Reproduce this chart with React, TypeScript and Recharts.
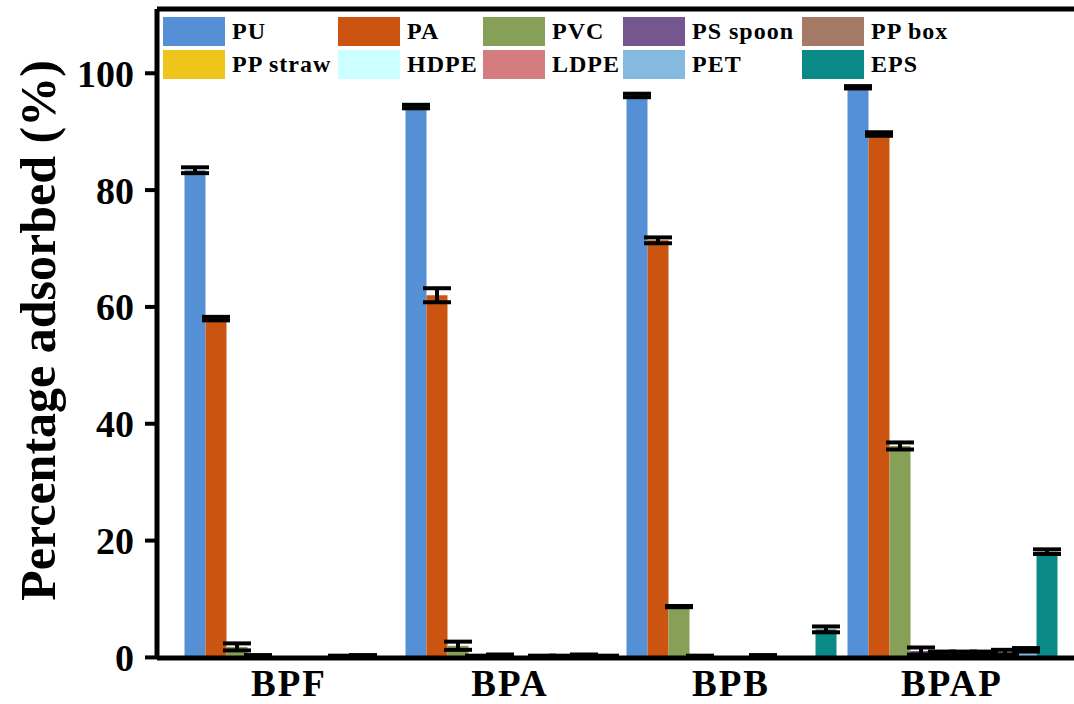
import { BarChart, Bar, XAxis, YAxis, ErrorBar, ReferenceLine, Label } from 'recharts'

const categories = ['BPF', 'BPA', 'BPB', 'BPAP']

const seriesNames = ['PU', 'PA', 'PVC', 'PS spoon', 'PP box', 'PP straw', 'HDPE', 'LDPE', 'PET', 'EPS']
const seriesColors = ['#558fd6', '#cb5410', '#86a058', '#76568e', '#a47a66', '#efc41b', '#ccffff', '#d57c80', '#84badf', '#098a87']

// mean values per series, one per category (BPF, BPA, BPB, BPAP)
const PU = [83.4, 94.3, 96.2, 97.6]
const PA = [58.0, 62.0, 71.4, 89.6]
const PVC = [1.8, 2.0, 8.7, 36.2]
const PSspoon = [0.2, 0.1, 0.1, 1.1]
const PPbox = [0, 0.3, 0, 0.7]
const PPstraw = [0, 0, 0, 0.7]
const HDPE = [0, 0.1, 0.2, 0.7]
const LDPE = [0.1, 0.1, 0, 0.9]
const PET = [0.2, 0.3, 0, 1.3]
const EPS = [0, 0.1, 4.8, 18.1]

// standard deviations
const PUerr = [0.5, 0.3, 0.3, 0.2]
const PAerr = [0.3, 1.2, 0.5, 0.3]
const PVCerr = [0.6, 0.7, 0.1, 0.6]
const PSspoonErr = [0.2, 0.2, 0.2, 0.6]
const PPboxErr = [0, 0.2, 0, 0.3]
const PPstrawErr = [0, 0, 0, 0.3]
const HDPEerr = [0, 0.2, 0.2, 0.3]
const LDPEerr = [0.2, 0.2, 0, 0.4]
const PETerr = [0.2, 0.2, 0, 0.3]
const EPSerr = [0, 0.2, 0.5, 0.4]

const seriesValues = [PU, PA, PVC, PSspoon, PPbox, PPstraw, HDPE, LDPE, PET, EPS]
const seriesErrors = [PUerr, PAerr, PVCerr, PSspoonErr, PPboxErr, PPstrawErr, HDPEerr, LDPEerr, PETerr, EPSerr]

const yTicks = [0, 20, 40, 60, 80, 100]

const data = categories.map((cat, i) => {
    const row: any = { name: cat }
    seriesNames.forEach((s, k) => {
        row[s] = seriesValues[k][i]
        row[s + '_err'] = seriesErrors[k][i]
    })
    return row
})

const FONT = '"Liberation Serif", "Times New Roman", serif'

// legend column widths (2 rows x 5 columns)
const legendCols = [175, 145, 140, 179, 160]

function LegendGrid() {
    return (
        <div
            style={{
                position: 'absolute',
                top: 17,
                left: 163,
                display: 'grid',
                gridTemplateColumns: legendCols.map(w => w + 'px').join(' '),
                rowGap: 4,
            }}
        >
            {seriesNames.map((s, k) => (
                <div key={s} style={{ display: 'flex', alignItems: 'center', height: 29 }}>
                    <div style={{ width: 62, height: 29, background: seriesColors[k], flexShrink: 0 }} />
                    <span
                        style={{
                            marginLeft: 7,
                            fontFamily: FONT,
                            fontWeight: 'bold',
                            fontSize: 24,
                            letterSpacing: 1,
                            color: '#000',
                            whiteSpace: 'nowrap',
                        }}
                    >
                        {s}
                    </span>
                </div>
            ))}
        </div>
    )
}

export default function App() {
    return (
        <div style={{ position: 'fixed', left: 0, top: 0, width: 1074, height: 704, overflow: 'hidden', background: '#fff' }}>
            <BarChart
                width={1100}
                height={704}
                data={data}
                margin={{ top: 9, right: 16, bottom: 0, left: 0 }}
                barSize={21}
                barGap={0}
            >
                <XAxis
                    dataKey="name"
                    padding={{ left: 21.5, right: 21.5 }}
                    height={46}
                    tickLine={false}
                    tickSize={0}
                    tickMargin={12}
                    axisLine={{ stroke: '#000', strokeWidth: 5 }}
                    tick={{ fill: '#000', fontSize: 37, fontWeight: 'bold', fontFamily: FONT, letterSpacing: 2 }}
                />
                <YAxis
                    domain={[0, 111]}
                    ticks={yTicks}
                    width={157}
                    tickSize={12}
                    tickMargin={11}
                    axisLine={{ stroke: '#000', strokeWidth: 5 }}
                    tickLine={{ stroke: '#000', strokeWidth: 4 }}
                    tick={{ fill: '#000', fontSize: 38, fontWeight: 'bold', fontFamily: FONT }}
                >
                    <Label
                        content={({ viewBox }: any) => {
                            const cy = viewBox.y + viewBox.height / 2 - 3
                            return (
                                <text
                                    x={38}
                                    y={cy}
                                    transform={`rotate(-90, 38, ${cy})`}
                                    textAnchor="middle"
                                    dominantBaseline="central"
                                    fontFamily={FONT}
                                    fontWeight="bold"
                                    fontSize={50}
                                    fill="#000"
                                >
                                    Percentage adsorbed (%)
                                </text>
                            )
                        }}
                    />
                </YAxis>
                <ReferenceLine y={111} stroke="#000" strokeWidth={5} />
                {seriesNames.map((s, k) => (
                    <Bar key={s} dataKey={s} fill={seriesColors[k]} isAnimationActive={false}>
                        <ErrorBar dataKey={s + '_err'} width={14} strokeWidth={4} stroke="#000" direction="y" />
                    </Bar>
                ))}
            </BarChart>
            <LegendGrid />
        </div>
    )
}
